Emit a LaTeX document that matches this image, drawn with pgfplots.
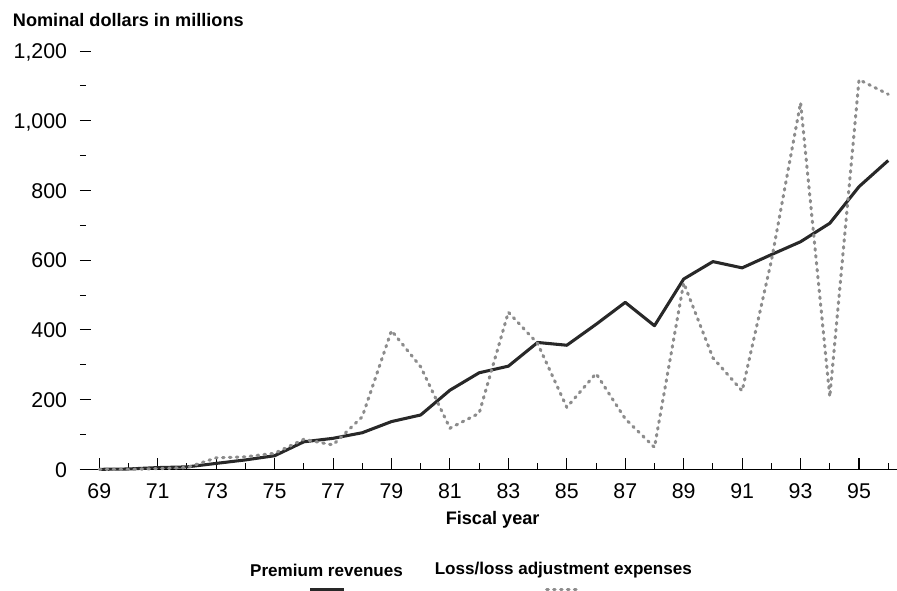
\documentclass[border=0pt]{standalone}
\usepackage{fontspec}
\setmainfont{Liberation Sans}
\usepackage{pgfplots}
\pgfplotsset{compat=1.18}
\definecolor{premium}{RGB}{40,40,40}
\definecolor{losses}{RGB}{140,140,140}

\begin{document}
\begin{tikzpicture}
  % 1px of the reference = 0.75pt
  \begin{axis}[
    scale only axis,
    width=612.75pt, height=313.7pt,
    at={(60pt,90.5pt)}, anchor=south west,
    xmin=68.34, xmax=96.30,
    ymin=0, ymax=1200,
    axis x line*=bottom, axis y line*=left,
    y axis line style={draw=none},
    x axis line style={line width=1.1pt},
    xtick={69,71,...,95},
    minor xtick={70,72,...,96},
    ytick={0,200,...,1200},
    minor ytick={100,300,...,1100},
    tick align=inside,
    major tick length=8.5pt,
    minor tick length=4.5pt,
    every tick/.style={black,line width=0.8pt},
    tick label style={font=\fontsize{16}{19}\selectfont, inner sep=0pt},
    /pgf/number format/assume math mode=true,
    yticklabel style={anchor=base east, xshift=-9.5pt, yshift=-5.8pt},
    xticklabel style={anchor=base, yshift=-21.5pt},
    clip=false,
  ]
    \addplot[premium, line width=2.3pt, line join=round] coordinates {
      (69,0) (70,1) (71,5) (72,7) (73,17) (74,27) (75,39) (76,79)
      (77,89) (78,105) (79,137) (80,156) (81,227) (82,277) (83,296)
      (84,364) (85,356) (86,416) (87,479) (88,412) (89,546) (90,596)
      (91,578) (92,616) (93,653) (94,706) (95,811) (96,886)
    };
    \addplot[losses, line width=2.3pt, line cap=round, dash pattern=on 1.2pt off 4pt, line join=round] coordinates {
      (69,0) (70,0) (71,2) (72,5) (73,33) (74,36) (75,46) (76,86)
      (77,70) (78,151) (79,398) (80,294) (81,118) (82,161) (83,451)
      (84,361) (85,178) (86,275) (87,145) (88,63) (89,535) (90,320)
      (91,225) (92,598) (93,1052) (94,208) (95,1118) (96,1076)
    };
  \end{axis}
  % titles and legend
  \node[anchor=west, inner sep=0pt, font=\bfseries\fontsize{13.6}{16}\selectfont] at (9.5pt,427.5pt) {Nominal dollars in millions};
  \node[inner sep=0pt, font=\bfseries\fontsize{13.6}{16}\selectfont] at (369.5pt,52.5pt) {Fiscal year};
  \node[inner sep=0pt, font=\bfseries\fontsize{12.8}{15}\selectfont] at (244.9pt,15pt) {Premium revenues};
  \node[inner sep=0pt, font=\bfseries\fontsize{12.8}{15}\selectfont] at (422.5pt,15pt) {Loss/loss adjustment expenses};
  \draw[premium, line width=2.3pt] (232.5pt,0.3pt) -- (258pt,0.3pt);
  \draw[losses, line width=2.3pt, line cap=round, dash pattern=on 1.2pt off 4pt] (410pt,0.3pt) -- (435pt,0.3pt);
  \pgfresetboundingbox
  \path[use as bounding box] (0,0) rectangle (672.75pt,442.5pt);
\end{tikzpicture}
\end{document}
